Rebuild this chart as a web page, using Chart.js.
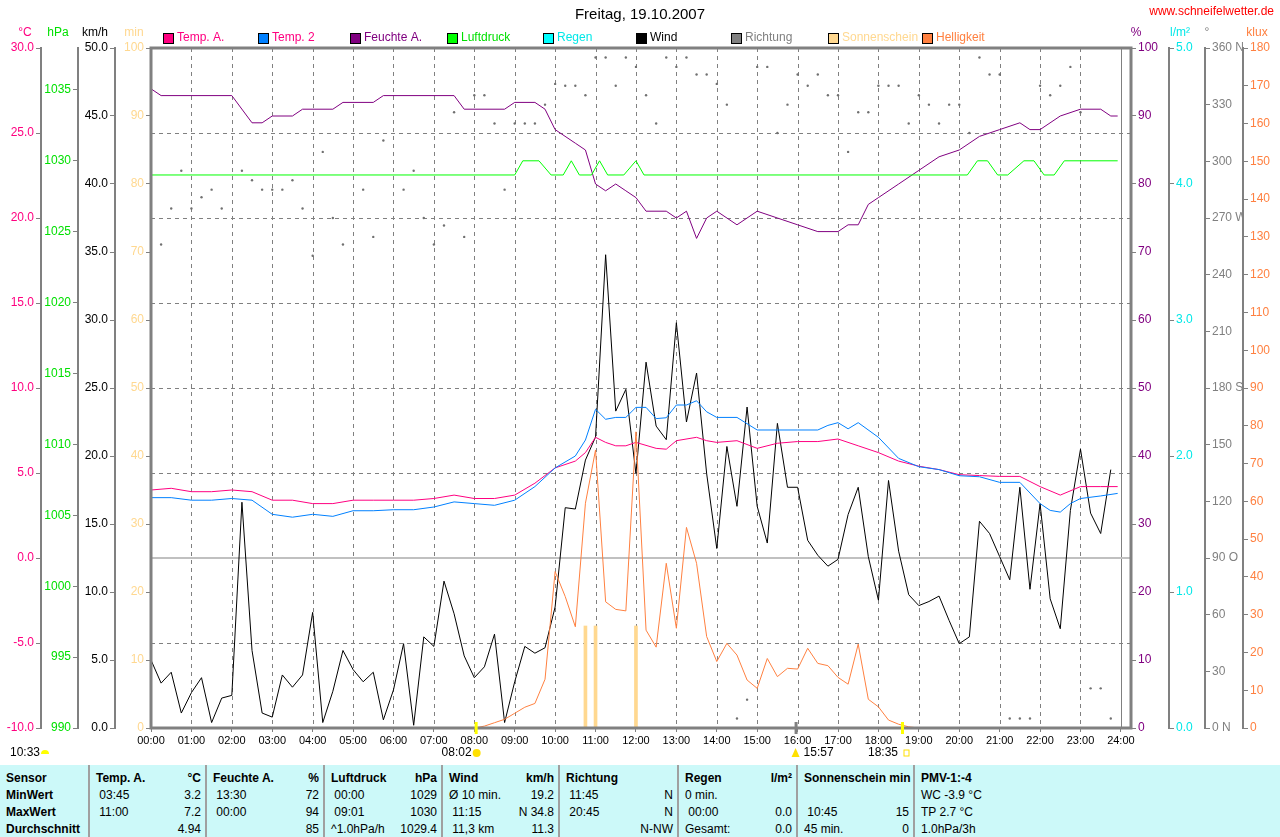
<!DOCTYPE html>
<html>
<head>
<meta charset="utf-8">
<script src="https://cdn.jsdelivr.net/npm/chart.js@4"></script>
<style>
  body { margin:0; background:#fff; font-family:"Liberation Sans", Arial, sans-serif; }
  #wrap { position:relative; width:1280px; height:765px; }
  #tab { position:absolute; left:0; top:765px; width:1280px; height:72px; background:#ccf9f9; font-size:12px; }
  #tab .col { position:absolute; top:0; height:72px; border-left:2px solid #a0a0a0; }
  #tab .row { position:absolute; left:6px; right:6px; height:17px; line-height:17px; white-space:nowrap; }
  #tab .r { position:absolute; right:0; }
  #tab b { font-weight:bold; }
</style>
</head>
<body>
<div id="wrap"><canvas id="grafico"></canvas></div>
<div id="tab"></div>
<script>
// Wind km/h, alle 15 min ab 00:00
const wind = [5.0,3.3,4.1,1.1,2.6,3.7,0.4,2.2,2.4,16.6,5.7,1.1,0.8,3.9,3.0,3.9,
  8.5,0.4,2.7,5.7,4.3,3.4,4.1,0.6,2.8,6.2,0.2,6.7,6.0,10.8,8.4,5.3,
  3.7,4.5,6.9,0.4,3.4,6.0,5.5,5.9,8.9,16.2,16.1,19.7,21.4,34.8,23.3,24.9,
  18.7,26.9,22.2,21.2,29.8,22.5,26.1,18.7,13.2,20.7,16.3,23.6,16.3,13.6,22.4,17.7,
  17.7,13.8,12.7,11.9,12.4,15.7,17.7,12.6,9.4,18.2,13.0,9.8,9.0,9.3,9.7,7.9,
  6.2,6.7,15.2,14.3,12.6,10.9,17.7,10.2,16.5,9.5,7.3,16.0,20.5,15.8,14.3,19.0];

const tempATimes = [0,0.5,1,1.5,2,2.5,3,3.5,4,4.5,5,5.5,6,6.5,7,7.5,8,8.5,9,9.5,10,
  10.5,10.75,11,11.25,11.5,11.75,12,12.5,12.75,13,13.5,13.75,14,
  14.5,15,15.5,16,16.5,17,17.5,18,18.5,19,19.5,20,20.5,21,21.5,22,22.5,23,23.5,23.92];
const tempA = [4.0,4.1,3.9,3.9,4.0,3.9,3.4,3.4,3.2,3.2,3.4,3.4,3.4,3.4,3.5,3.7,3.5,3.5,3.7,4.4,5.3,
  5.7,6.2,7.1,6.8,6.6,6.6,6.8,6.45,6.4,6.9,7.1,6.9,6.8,
  6.9,6.45,6.75,6.85,6.85,7.0,6.6,6.2,5.7,5.4,5.2,4.9,4.85,4.8,4.8,4.2,3.7,4.2,4.2,4.2];

const temp2Times = [0,0.5,1,1.5,2,2.5,3,3.5,4,4.5,5,5.5,6,6.5,7,7.5,8,8.5,9,9.5,10,
  10.5,10.75,11,11.25,11.5,11.75,12,12.25,12.5,12.75,13,13.25,13.5,13.75,14,
  14.5,15,15.5,16,16.5,16.75,17,17.25,17.5,18,18.5,19,19.5,20,20.5,21,21.5,22,22.25,22.5,22.75,23,23.5,23.92];
const temp2 = [3.55,3.55,3.4,3.4,3.5,3.4,2.57,2.4,2.57,2.45,2.78,2.78,2.84,2.84,3.0,3.3,3.2,3.1,3.4,4.2,5.3,
  6.0,6.94,8.75,8.16,8.27,8.27,8.86,8.86,8.2,8.25,9.0,9.0,9.25,8.6,8.27,
  8.27,7.53,7.53,7.53,7.53,7.8,7.96,7.6,7.96,7.1,5.86,5.37,5.2,4.84,4.78,4.45,4.45,3.2,2.8,2.7,3.2,3.5,3.65,3.8];

const feuchteTimes = [0,0.25,2,2.5,2.75,3,3.5,3.75,4.5,4.75,5.5,5.75,7.5,7.75,8.75,9,9.5,9.75,10,10.5,
  10.75,11,11.25,11.5,11.75,12,12.25,12.75,13,13.25,13.5,13.75,14,14.5,15,15.5,16,16.5,17,17.25,
  17.5,17.75,18,18.5,19,19.5,20,20.5,21,21.5,21.75,22,22.5,23,23.5,23.75,23.92];
const feuchte = [94,93,93,89,89,90,90,91,91,92,92,93,93,91,91,92,92,91,88,86,
  85,80,79,80,79,78,76,76,75,76,72,75,76,74,76,75,74,73,73,74,
  74,77,78,80,82,84,85,87,88,89,88,88,90,91,91,90,90];

const druckTimes = [0,9,9.2,9.6,9.9,10.2,10.4,10.6,10.9,11.1,11.3,11.7,12,12.2,
  20.2,20.45,20.7,20.95,21.2,21.6,21.85,22.1,22.35,22.6,23.92];
const druck = [1029,1029,1030,1030,1029,1029,1030,1029,1029,1030,1029,1029,1030,1029,
  1029,1030,1030,1029,1029,1030,1030,1029,1029,1030,1030];

// Richtung in Grad, alle 15 min ab 00:15
const richtung = [256,275,295,275,281,285,275,null,295,290,285,285,285,290,275,250,
  305,270,256,null,285,260,311,null,285,295,270,256,266,326,260,335,
  335,320,285,320,320,320,330,341,340,340,335,355,355,340,355,350,
  335,320,355,350,355,346,346,341,330,5,15,350,350,315,330,346,
  340,346,335,335,305,326,326,340,340,340,320,335,330,320,330,330,
  315,355,346,346,5,5,5,340,335,340,350,326,21,21,5];

// Helligkeit klux, alle 15 min ab 08:00
const hell = [0,0.5,1.4,2.3,3.9,5.5,6.5,12.9,41.4,34.8,26.8,59.5,73.6,33.4,31.4,31.0,
  78.4,25.9,21.4,43.6,26.4,53.1,43.6,24.2,17.6,22.4,19.3,12.7,10.5,18.4,13.6,15.8,
  15.6,21.1,17.1,16.5,13.4,11.6,22.2,7.6,5.6,2.1,1.0,0.3,0];

const sonneTimes = [10.75,11,12];
const sonne = [15,15,15];

const stunden = ["00:00","01:00","02:00","03:00","04:00","05:00","06:00","07:00","08:00","09:00","10:00","11:00","12:00",
  "13:00","14:00","15:00","16:00","17:00","18:00","19:00","20:00","21:00","22:00","23:00","24:00"];

function pts(t, v){ return v.map((y,i)=>({x:t[i], y:y})); }

const windPts = wind.map((v,i)=>({x:i*0.25, y:v}));
const richtPts = richtung.map((v,i)=>({x:(i+1)*0.25, y:v}));
const hellPts = hell.map((v,i)=>({x:8+i*0.25, y:v}));

function yAxis(pos, w, weight, min, max, step, color, fmt){
  return {
    type:'linear', position:pos, min:min, max:max, weight:weight,
    ticks:{ stepSize:step, color:color, font:{family:'Liberation Sans', size:12}, padding:2,
      callback: fmt },
    grid:{ display:true, drawOnChartArea:false, drawTicks:true, tickLength:5, color:'#808080' },
    border:{ display:true, color:'#808080', width:2 },
    afterFit: s => { s.width = w; },
    afterBuildTicks: s => { s.ticks = s.ticks.filter(t => Math.abs(t.value/step - Math.round(t.value/step)) < 1e-6); }
  };
}

const richtName = {0:'0 N',90:'90 O',180:'180 S',270:'270 W',360:'360 N'};

const extras = {
  id:'extras',
  beforeDatasetsDraw(c){
    const ctx = c.ctx, a = c.chartArea, x = c.scales.x, r = c.scales.dir, t = c.scales.temp;
    ctx.save();
    ctx.strokeStyle = '#808080'; ctx.lineWidth = 1;
    ctx.setLineDash([4,4]);
    for(let h=1; h<24; h++){
      const px = Math.round(x.getPixelForValue(h))+0.5;
      ctx.beginPath(); ctx.moveTo(px,a.top); ctx.lineTo(px,a.bottom); ctx.stroke();
    }
    for(let d=45; d<360; d+=45){
      const py = Math.round(r.getPixelForValue(d))+0.5;
      ctx.beginPath(); ctx.moveTo(a.left,py); ctx.lineTo(a.right,py); ctx.stroke();
    }
    ctx.setLineDash([]);
    const p24 = Math.round(x.getPixelForValue(24))+0.5;
    ctx.beginPath(); ctx.moveTo(p24,a.top); ctx.lineTo(p24,a.bottom); ctx.stroke();
    ctx.strokeStyle = '#c0c0c0'; ctx.lineWidth = 2;
    const p0 = Math.round(t.getPixelForValue(0));
    ctx.beginPath(); ctx.moveTo(a.left,p0); ctx.lineTo(a.right,p0); ctx.stroke();
    ctx.restore();
  },
  afterDraw(c){
    const ctx = c.ctx, a = c.chartArea, x = c.scales.x;
    ctx.save();
    ctx.strokeStyle = '#808080'; ctx.lineWidth = 3;
    ctx.strokeRect(a.left, a.top, a.right-a.left, a.bottom-a.top);
    ctx.font = '15px "Liberation Sans"'; ctx.fillStyle = '#000'; ctx.textAlign = 'center'; ctx.textBaseline = 'middle';
    ctx.fillText('Freitag, 19.10.2007', 640, 15);
    ctx.font = '12px "Liberation Sans"'; ctx.fillStyle = '#ff0000'; ctx.textAlign = 'right';
    ctx.fillText('www.schneifelwetter.de', 1274, 12);
    // Achsentitel
    const titel = [['°C',25,'#ff0080'],['hPa',58,'#00e000'],['km/h',95,'#000'],['min',134,'#ffd890'],
      ['%',1136,'#800080'],['l/m²',1180,'#00e8e8'],['°',1207,'#808080'],['klux',1257,'#ff8040']];
    ctx.textAlign = 'center';
    titel.forEach(([s,px,col]) => { ctx.fillStyle = col; ctx.fillText(s, px, 33); });
    // Legende
    const leg = [['Temp. A.','#ff0080','#ff0080',163],['Temp. 2','#0080ff','#ff0080',258],['Feuchte A.','#800080','#800080',350],
      ['Luftdruck','#00ff00','#00e000',447],['Regen','#00ffff','#00e8e8',543],['Wind','#000000','#000',636],
      ['Richtung','#808080','#808080',731],['Sonnenschein','#ffd890','#ffd890',828],['Helligkeit','#ff8040','#ff8040',922]];
    ctx.textAlign = 'left';
    leg.forEach(([s,box,col,px]) => {
      ctx.fillStyle = box; ctx.fillRect(px, 33, 10, 10);
      ctx.strokeStyle = '#000'; ctx.lineWidth = 1; ctx.strokeRect(px+0.5, 33.5, 10, 10);
      ctx.fillStyle = col; ctx.fillText(s, px+14, 38);
    });
    // Sonnenauf-/untergang, Mond
    const mark = (h, col) => { const px = x.getPixelForValue(h); ctx.fillStyle = col; ctx.fillRect(px-1, a.bottom-6, 3, 12); };
    mark(8+2/60, '#ffff00'); mark(18+35/60, '#ffff00'); mark(15+57/60, '#808080');
    ctx.fillStyle = '#000'; ctx.font = '12px "Liberation Sans"';
    ctx.fillText('10:33', 10, 753);
    ctx.fillStyle = '#ffff00'; ctx.beginPath(); ctx.arc(45, 754, 4, Math.PI, 0); ctx.fill();
    ctx.fillStyle = '#000'; ctx.textAlign = 'right';
    ctx.fillText('08:02', x.getPixelForValue(8+2/60)-4, 753);
    ctx.fillText('18:35', x.getPixelForValue(18+35/60)-4, 753);
    ctx.textAlign = 'left';
    ctx.fillText('15:57', x.getPixelForValue(15+57/60)+8, 753);
    ctx.fillStyle = '#ffe000';
    ctx.beginPath(); ctx.arc(x.getPixelForValue(8+2/60)+1, 753, 4, 0, 2*Math.PI); ctx.fill();
    ctx.beginPath(); ctx.moveTo(x.getPixelForValue(15+57/60), 748); ctx.lineTo(x.getPixelForValue(15+57/60)-4, 757); ctx.lineTo(x.getPixelForValue(15+57/60)+4, 757); ctx.fill();
    ctx.strokeStyle = '#ffe000'; ctx.strokeRect(x.getPixelForValue(18+35/60)+2, 750, 5, 6);
    ctx.restore();
  }
};

const linie = (label, data, color, axis) => ({ type:'line', label, data, borderColor:color, borderWidth:1,
  pointRadius:0, tension:0, yAxisID:axis, fill:false });

const chart = new Chart(document.getElementById('grafico'), {
  type:'line',
  data:{ datasets:[
    { type:'bar', label:'Sonnenschein', data:pts(sonneTimes, sonne), backgroundColor:'#ffd890', barThickness:3, yAxisID:'min' },
    linie('Helligkeit', hellPts, '#ff8040', 'klux'),
    { type:'line', label:'Richtung', data:richtPts, showLine:false, pointRadius:1.2, pointBackgroundColor:'#707070',
      pointBorderWidth:0, yAxisID:'dir' },
    linie('Luftdruck', pts(druckTimes, druck), '#00ff00', 'hpa'),
    linie('Feuchte A.', pts(feuchteTimes, feuchte), '#800080', 'hum'),
    linie('Temp. 2', pts(temp2Times, temp2), '#0080ff', 'temp'),
    linie('Temp. A.', pts(tempATimes, tempA), '#ff0080', 'temp'),
    linie('Wind', windPts, '#000000', 'wind')
  ]},
  options:{
    responsive:true, maintainAspectRatio:false, animation:false, spanGaps:false,
    layout:{ padding:{ top:48, left:0, right:0, bottom:0 } },
    plugins:{ legend:{ display:false }, tooltip:{ enabled:false } },
    scales:{
      x:{ type:'linear', min:0, max:24.25, offset:false,
        ticks:{ stepSize:1, color:'#000', font:{family:'Liberation Sans', size:11}, maxRotation:0, autoSkip:false, padding:2,
          callback: v => stunden[v] },
        grid:{ display:true, drawOnChartArea:false, tickLength:4, color:'#808080', offset:false },
        border:{ display:false },
        afterBuildTicks: s => {
          s.ticks = stunden.map((l, h) => ({ value:h }));
        },
        afterFit: s => { s.height = 37; } },
      temp: yAxis('left', 41, 4, -10, 30, 5, '#ff0080', v => v.toFixed(1)),
      hpa: yAxis('left', 37, 3, 990, 990 + 680/14.18, 5, '#00e000', v => v),
      wind: yAxis('left', 37, 2, 0, 50, 5, '#000000', v => v.toFixed(1)),
      min: yAxis('left', 36, 1, 0, 100, 10, '#ffd890', v => v),
      hum: yAxis('right', 38, 1, 0, 100, 10, '#800080', v => v),
      rain: yAxis('right', 36, 2, 0, 5, 1, '#00e8e8', v => v.toFixed(1)),
      dir: yAxis('right', 38, 3, 0, 360, 30, '#808080', v => richtName[v] || v),
      klux: yAxis('right', 37, 4, 0, 180, 10, '#ff8040', v => v)
    }
  },
  plugins:[extras]
});

// Tabelle
const spalten = [
  [0, 88, [['<b>Sensor</b>',''],['<b>MinWert</b>',''],['<b>MaxWert</b>',''],['<b>Durchschnitt</b>','']]],
  [88, 117, [['<b>Temp. A.</b>','<b>°C</b>'],['&nbsp;03:45','3.2'],['&nbsp;11:00','7.2'],['','4.94']]],
  [205, 118, [['<b>Feuchte A.</b>','<b>%</b>'],['&nbsp;13:30','72'],['&nbsp;00:00','94'],['','85']]],
  [323, 118, [['<b>Luftdruck</b>','<b>hPa</b>'],['&nbsp;00:00','1029'],['&nbsp;09:01','1030'],['^1.0hPa/h','1029.4']]],
  [441, 117, [['<b>Wind</b>','<b>km/h</b>'],['Ø 10 min.','19.2'],['&nbsp;11:15','N 34.8'],['&nbsp;11,3 km','11.3']]],
  [558, 119, [['<b>Richtung</b>',''],['&nbsp;11:45','N'],['&nbsp;20:45','N'],['','N-NW']]],
  [677, 119, [['<b>Regen</b>','<b>l/m²</b>'],['0 min.',''],['&nbsp;00:00','0.0'],['Gesamt:','0.0']]],
  [796, 117, [['<b>Sonnenschein min</b>',''],['',''],['&nbsp;10:45','15'],['45 min.','0']]],
  [913, 367, [['<b>PMV-1:-4</b>',''],['WC -3.9 °C',''],['TP 2.7 °C',''],['1.0hPa/3h','']]]
];
const tab = document.getElementById('tab');
spalten.forEach(([l, w, rows], ci) => {
  const col = document.createElement('div');
  col.className = 'col';
  col.style.left = l + 'px'; col.style.width = w + 'px';
  if(ci === 0) col.style.borderLeft = 'none';
  rows.forEach(([a, b], ri) => {
    const r = document.createElement('div');
    r.className = 'row'; r.style.top = (5 + ri*17) + 'px';
    r.innerHTML = a + '<span class="r">' + b + '</span>';
    col.appendChild(r);
  });
  tab.appendChild(col);
});
</script>
</body>
</html>
